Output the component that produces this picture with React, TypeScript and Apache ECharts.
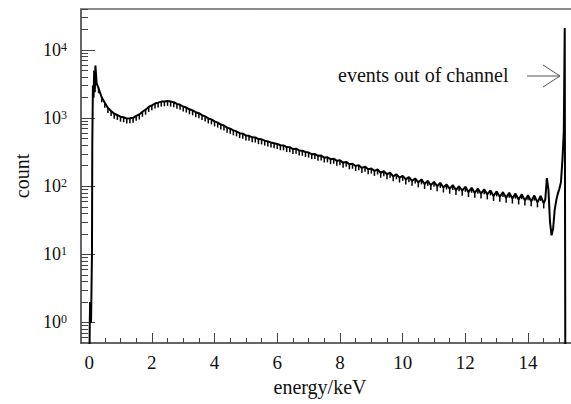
import React, { useEffect, useRef } from "react";
import * as echarts from "echarts";

// ---- data ----
const BIN_START = 0.3; // keV, first regular bin
const BIN_WIDTH = 0.1; // keV
const mainCounts = [
  2750, 2020, 1680, 1410, 1270, 1160, 1110, 1050, 1030, 985,
  995, 1010, 1080, 1130, 1240, 1330, 1460, 1540, 1640, 1690,
  1750, 1760, 1790, 1750, 1710, 1620, 1570, 1480, 1430, 1350,
  1300, 1220, 1180, 1110, 1060, 990, 960, 895, 860, 805,
  780, 725, 700, 662, 640, 602, 590, 558, 550, 522,
  520, 492, 488, 468, 455, 440, 428, 418, 400, 398,
  376, 374, 352, 356, 335, 332, 318, 312, 296, 298,
  280, 282, 264, 266, 250, 254, 236, 240, 222, 228,
  210, 214, 198, 204, 186, 194, 178, 182, 168, 176,
  158, 166, 150, 158, 140, 150, 134, 142, 126, 136,
  120, 130, 114, 126, 108, 120, 104, 116, 100, 112,
  96, 106, 92, 104, 88, 100, 86, 98, 82, 95,
  80, 92, 78, 90, 76, 87, 72, 84, 70, 82,
  68, 80, 66, 78, 64, 76, 62, 74, 60, 73,
  58, 72, 56,
];
const leftEdge: [number, number][] = [
  [0.0, 0.1], [0.02, 1], [0.03, 2], [0.04, 1], [0.05, 2], [0.06, 1], [0.08, 1],
  [0.09, 10], [0.1, 400], [0.12, 3000], [0.14, 2000], [0.16, 5000], [0.18, 2400],
  [0.2, 5900], [0.24, 3200],
];
const rightEdge: [number, number][] = [
  [14.55, 64], [14.6, 132], [14.65, 90], [14.7, 30], [14.75, 19], [14.8, 24],
  [14.85, 45], [14.9, 62], [14.95, 78], [15.0, 92], [15.05, 115], [15.1, 260],
  [15.14, 640], [15.17, 21000], [15.19, 0.1],
];
const xMajorTicks = [0, 2, 4, 6, 8, 10, 12, 14];
const xMinorTicks = [0.5, 1, 1.5, 2.5, 3, 3.5, 4.5, 5, 5.5, 6.5, 7, 7.5, 8.5, 9, 9.5, 10.5, 11, 11.5, 12.5, 13, 13.5, 14.5, 15];
const yMajorTicks = [1, 10, 100, 1000, 10000];
const yMinorTicks = [
  0.6, 0.7, 0.8, 0.9,
  2, 3, 4, 5, 6, 7, 8, 9,
  20, 30, 40, 50, 60, 70, 80, 90,
  200, 300, 400, 500, 600, 700, 800, 900,
  2000, 3000, 4000, 5000, 6000, 7000, 8000, 9000,
  20000, 30000, 40000,
];
const X_MIN = -0.26;
const X_MAX = 15.37;
const Y_MIN = 0.5;
const Y_MAX = 40000;

const FONT = "Liberation Serif";

export default function App() {
  const ref = useRef<HTMLDivElement>(null);
  useEffect(() => {
    if (!ref.current) return;
    const chart = echarts.init(ref.current, null, { renderer: "svg" });
    const mainData: [number, number][] = mainCounts.map((v, i) => [
      +(BIN_START + i * BIN_WIDTH).toFixed(2),
      v,
    ]);
    const lineData = [...leftEdge, ...mainData, ...rightEdge];
    const TOOTH = 5;

    chart.setOption({
      animation: false,
      textStyle: { fontFamily: FONT },
      grid: { left: 81, right: 0, top: 9, bottom: 61 },
      xAxis: [
        {
          type: "value",
          min: X_MIN,
          max: X_MAX,
          position: "bottom",
          name: "energy/keV",
          nameLocation: "middle",
          nameGap: 29,
          nameTextStyle: { fontFamily: FONT, fontSize: 20, color: "#111", padding: [0, 12, 0, 0] },
          axisLine: { show: true, onZero: false, lineStyle: { color: "#333", width: 1.5 } },
          axisTick: { show: true, inside: true, length: 10, customValues: xMajorTicks, lineStyle: { color: "#444", width: 1 } },
          axisLabel: { customValues: xMajorTicks, margin: 10, fontFamily: FONT, fontSize: 19, color: "#111" },
          splitLine: { show: false },
        },
        {
          type: "value",
          min: X_MIN,
          max: X_MAX,
          position: "bottom",
          axisLine: { show: false, onZero: false },
          axisTick: { show: true, inside: true, length: 5, customValues: xMinorTicks, lineStyle: { color: "#444", width: 1 } },
          axisLabel: { show: false },
          splitLine: { show: false },
        },
        {
          type: "value",
          min: X_MIN,
          max: X_MAX,
          position: "top",
          axisLine: { show: true, onZero: false, lineStyle: { color: "#666", width: 1.5 } },
          axisTick: { show: false },
          axisLabel: { show: false },
          splitLine: { show: false },
        },
      ],
      yAxis: [
        {
          type: "log",
          logBase: 10,
          min: Y_MIN,
          max: Y_MAX,
          position: "left",
          name: "count",
          nameLocation: "middle",
          nameGap: 48,
          nameTextStyle: { fontFamily: FONT, fontSize: 20, color: "#111" },
          axisLine: { show: true, onZero: false, lineStyle: { color: "#333", width: 1.5 } },
          axisTick: { show: true, inside: true, length: 14, customValues: yMajorTicks, lineStyle: { color: "#444", width: 1 } },
          axisLabel: {
            customValues: yMajorTicks,
            margin: 14,
            formatter: (v: number) => `{b|10}{s|${Math.round(Math.log10(v))}}`,
            rich: {
              b: { fontFamily: FONT, fontSize: 18, color: "#111" },
              s: { fontFamily: FONT, fontSize: 12, color: "#111", verticalAlign: "top" },
            },
          },
          splitLine: { show: false },
        },
        {
          type: "log",
          logBase: 10,
          min: Y_MIN,
          max: Y_MAX,
          position: "left",
          axisLine: { show: false, onZero: false },
          axisTick: { show: true, inside: true, length: 7, customValues: yMinorTicks, lineStyle: { color: "#444", width: 1 } },
          axisLabel: { show: false },
          splitLine: { show: false },
        },
      ],
      series: [
        {
          type: "line",
          xAxisIndex: 0,
          yAxisIndex: 0,
          data: lineData,
          showSymbol: false,
          symbol: "none",
          clip: true,
          lineStyle: { color: "#000", width: 2 },
        },
        {
          type: "custom",
          xAxisIndex: 0,
          yAxisIndex: 0,
          clip: true,
          data: mainData,
          renderItem: (params: any, api: any) => {
            const p = api.coord([api.value(0), api.value(1)]);
            return {
              type: "line",
              shape: { x1: p[0], y1: p[1], x2: p[0], y2: p[1] + TOOTH },
              style: { stroke: "#000", lineWidth: 1.5 },
            };
          },
        },
      ],
      graphic: [
        {
          type: "text",
          style: {
            text: "events out of channel",
            x: 338,
            y: 75,
            verticalAlign: "middle",
            fontFamily: FONT,
            fontSize: 20,
            fill: "#111",
          },
        },
        {
          type: "line",
          shape: { x1: 527, y1: 76, x2: 560, y2: 76 },
          style: { stroke: "#555", lineWidth: 1 },
        },
        {
          type: "polyline",
          shape: { points: [[543, 65], [560, 76], [543, 87]] },
          style: { stroke: "#555", lineWidth: 1, fill: null },
        },
      ],
    });
    return () => chart.dispose();
  }, []);
  return (
    <div
      ref={ref}
      style={{ position: "fixed", left: 0, top: 0, width: 571, height: 404, background: "#fff" }}
    />
  );
}
